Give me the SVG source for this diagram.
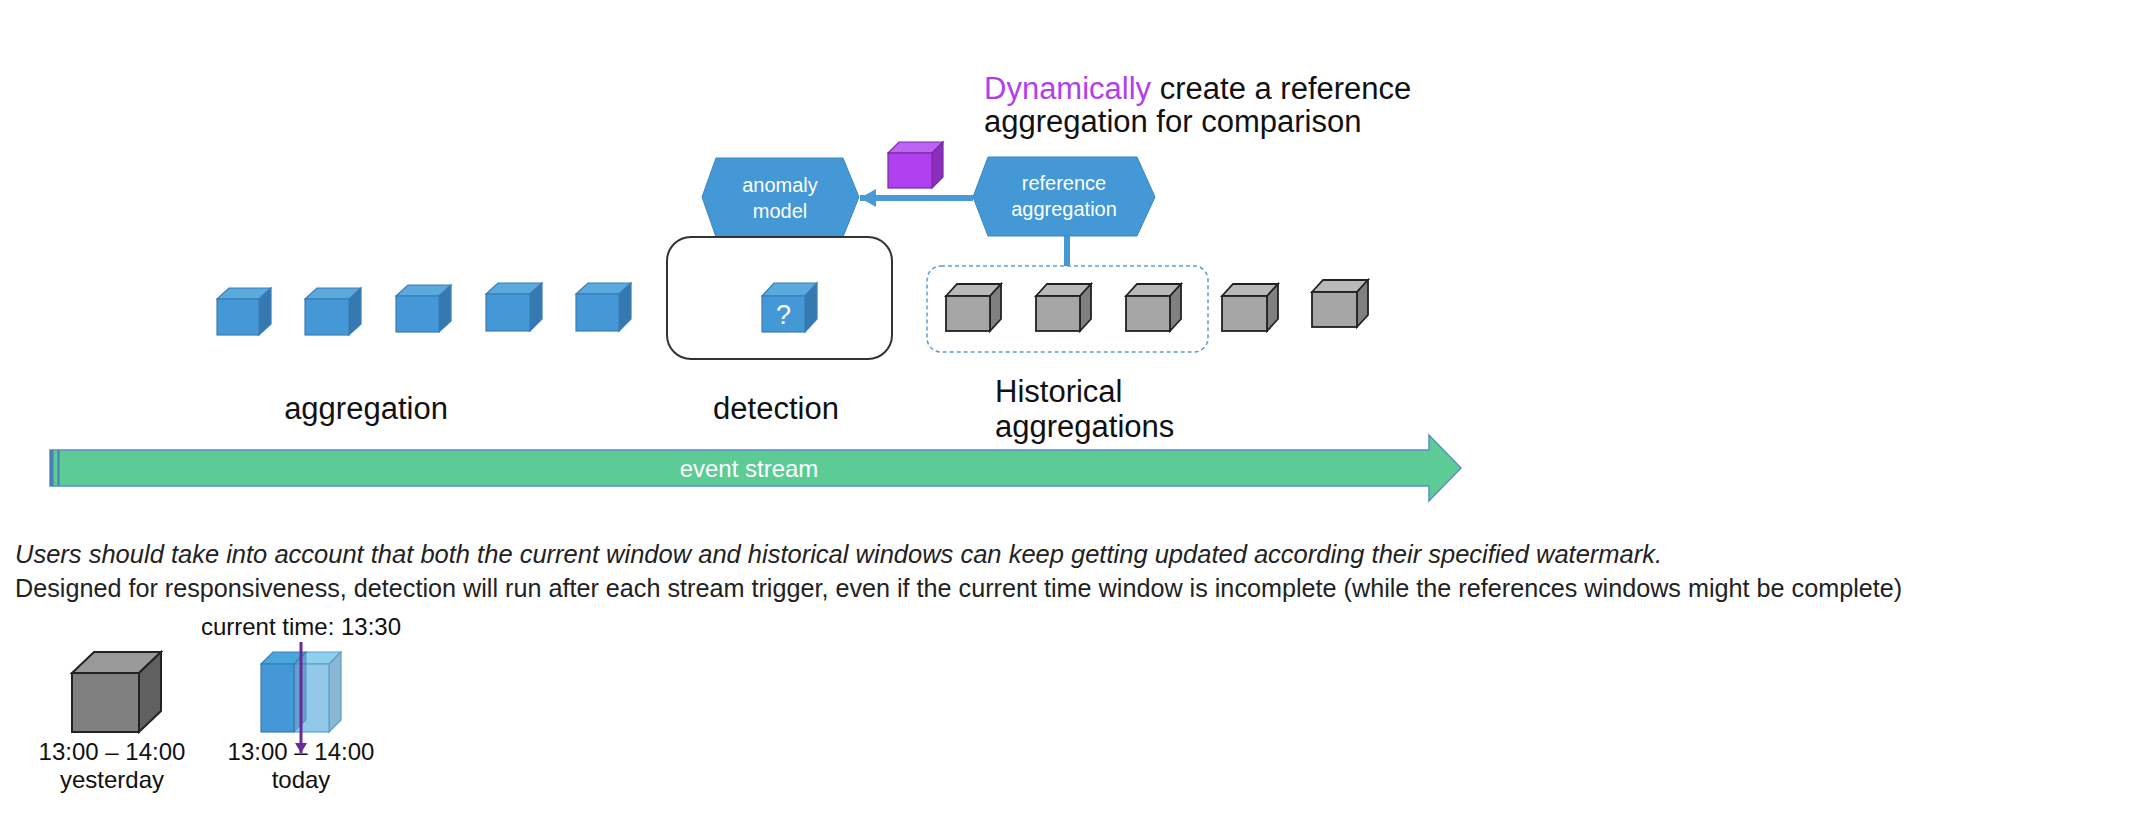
<svg xmlns="http://www.w3.org/2000/svg" width="2156" height="820" viewBox="0 0 2156 820">
<style>
text{font-family:"Liberation Sans",Arial,sans-serif}
.lbl{font-size:31px;fill:#111}
.hex{fill:#4398d5;stroke:#3c86c2;stroke-width:1}
.hext{font-size:20px;fill:#fff;text-anchor:middle}
.bf{fill:#4398d5;stroke:#3a7cb8;stroke-width:1.2}
.bt{fill:#5aaadd;stroke:#3a7cb8;stroke-width:1.2}
.bs{fill:#3679b0;stroke:#3a7cb8;stroke-width:1.2}
.gf{fill:#a6a6a6;stroke:#222;stroke-width:1.8}
.gt{fill:#b9b9b9;stroke:#222;stroke-width:1.8}
.gs{fill:#808080;stroke:#222;stroke-width:1.8}
.note{fill:#222}
.sm{font-size:24px;fill:#111;text-anchor:middle}
</style>
<defs>
<marker id="ah" markerWidth="16" markerHeight="18" refX="16" refY="9" orient="auto" markerUnits="userSpaceOnUse">
<path d="M16,9 L0,0 L0,18 Z" fill="#4a9ad6"/>
</marker>
<marker id="pa" markerWidth="12" markerHeight="12" refX="10" refY="6" orient="auto" markerUnits="userSpaceOnUse">
<path d="M10,6 L0,0 L0,12 Z" fill="#6a2a9a"/>
</marker>
</defs>

<g id="title">
<text class="lbl" x="984" y="99"><tspan fill="#b13fef">Dynamically</tspan> create a reference</text>
<text class="lbl" x="984" y="132">aggregation for comparison</text>
</g>

<g id="connectors">
<line x1="973" y1="198" x2="860" y2="198" stroke="#4a9ad6" stroke-width="6" marker-end="url(#ah)"/>
<line x1="1067" y1="236" x2="1067" y2="266" stroke="#4398d5" stroke-width="6"/>
</g>

<g id="purple-cube">
<polygon points="888,153 899,142 943,142 932,153" fill="#bf63f5" stroke="#7a2aa0" stroke-width="1.2"/>
<polygon points="932,153 943,142 943,177 932,188" fill="#8a2fbb" stroke="#7a2aa0" stroke-width="1.2"/>
<rect x="888" y="153" width="44" height="35" fill="#b03ff0" stroke="#7a2aa0" stroke-width="1.2"/>
</g>

<g id="anomaly-model">
<polygon class="hex" points="702,197 716,158 843,158 859,197 843,237 716,237"/>
<text class="hext" x="780" y="192">anomaly</text>
<text class="hext" x="780" y="218">model</text>
</g>

<g id="reference-aggregation">
<polygon class="hex" points="973,197 988,157 1137,157 1155,197 1137,236 988,236"/>
<text class="hext" x="1064" y="190">reference</text>
<text class="hext" x="1064" y="216">aggregation</text>
</g>

<g id="detection-box">
<rect x="667" y="237" width="225" height="122" rx="24" fill="none" stroke="#333" stroke-width="2"/>
</g>

<g id="historical-box">
<rect x="927" y="266" width="281" height="86" rx="14" fill="none" stroke="#5a9fd0" stroke-width="1.5" stroke-dasharray="4,3"/>
</g>

<g id="blue-cubes">
<g transform="translate(217,299)"><polygon class="bt" points="0,0 12,-11 54,-11 42,0"/><polygon class="bs" points="42,0 54,-11 54,25 42,36"/><rect class="bf" x="0" y="0" width="42" height="36"/></g>
<g transform="translate(305,299)"><polygon class="bt" points="0,0 12,-11 56,-11 44,0"/><polygon class="bs" points="44,0 56,-11 56,25 44,36"/><rect class="bf" x="0" y="0" width="44" height="36"/></g>
<g transform="translate(396,296)"><polygon class="bt" points="0,0 12,-11 55,-11 43,0"/><polygon class="bs" points="43,0 55,-11 55,25 43,36"/><rect class="bf" x="0" y="0" width="43" height="36"/></g>
<g transform="translate(486,294)"><polygon class="bt" points="0,0 12,-11 56,-11 44,0"/><polygon class="bs" points="44,0 56,-11 56,25 44,37"/><rect class="bf" x="0" y="0" width="44" height="37"/></g>
<g transform="translate(576,294)"><polygon class="bt" points="0,0 12,-11 55,-11 43,0"/><polygon class="bs" points="43,0 55,-11 55,25 43,37"/><rect class="bf" x="0" y="0" width="43" height="37"/></g>
</g>

<g id="detection-cube">
<g transform="translate(762,296)"><polygon class="bt" points="0,0 12,-13 55,-13 43,0"/><polygon class="bs" points="43,0 55,-13 55,23 43,36"/><rect class="bf" x="0" y="0" width="43" height="36"/>
<text x="21.5" y="28" font-size="27" fill="#fff" text-anchor="middle">?</text></g>
</g>

<g id="grey-cubes">
<g transform="translate(946,296)"><polygon class="gt" points="0,0 11,-12 55,-12 44,0"/><polygon class="gs" points="44,0 55,-12 55,23 44,35"/><rect class="gf" x="0" y="0" width="44" height="35"/></g>
<g transform="translate(1036,296)"><polygon class="gt" points="0,0 11,-12 55,-12 44,0"/><polygon class="gs" points="44,0 55,-12 55,23 44,35"/><rect class="gf" x="0" y="0" width="44" height="35"/></g>
<g transform="translate(1126,296)"><polygon class="gt" points="0,0 11,-12 55,-12 44,0"/><polygon class="gs" points="44,0 55,-12 55,23 44,35"/><rect class="gf" x="0" y="0" width="44" height="35"/></g>
<g transform="translate(1222,296)"><polygon class="gt" points="0,0 11,-12 56,-12 45,0"/><polygon class="gs" points="45,0 56,-12 56,23 45,35"/><rect class="gf" x="0" y="0" width="45" height="35"/></g>
<g transform="translate(1312,292)"><polygon class="gt" points="0,0 11,-12 56,-12 45,0"/><polygon class="gs" points="45,0 56,-12 56,23 45,35"/><rect class="gf" x="0" y="0" width="45" height="35"/></g>
</g>

<g id="labels">
<text class="lbl" x="366" y="419" text-anchor="middle">aggregation</text>
<text class="lbl" x="776" y="419" text-anchor="middle">detection</text>
<text class="lbl" x="995" y="402">Historical</text>
<text class="lbl" x="995" y="437">aggregations</text>
</g>

<g id="event-stream">
<polygon points="50,450 1429,450 1429,435 1461,468 1429,501 1429,486 50,486" fill="#5ccb96" stroke="#5b8fc4" stroke-width="1.5"/>
<rect x="50" y="450" width="3.5" height="36" fill="#4a7fb5"/>
<line x1="58.5" y1="450" x2="58.5" y2="486" stroke="#4a7fb5" stroke-width="2"/>
<text x="749" y="477" font-size="24" fill="#fff" text-anchor="middle">event stream</text>
</g>

<g id="notes">
<text class="note" x="15" y="563" font-size="25.5" font-style="italic">Users should take into account that both the current window and historical windows can keep getting updated according their specified watermark.</text>
<text class="note" x="15" y="597" font-size="25.2">Designed for responsiveness, detection will run after each stream trigger, even if the current time window is incomplete (while the references windows might be complete)</text>
</g>

<g id="yesterday-cube">
<polygon points="72,673 94,652 161,652 139,673" fill="#999" stroke="#222" stroke-width="2"/>
<polygon points="139,673 161,652 161,711 139,732" fill="#606060" stroke="#222" stroke-width="2"/>
<rect x="72" y="673" width="67" height="59" fill="#808080" stroke="#222" stroke-width="2"/>
<text class="sm" x="112" y="760">13:00 – 14:00</text>
<text class="sm" x="112" y="788">yesterday</text>
</g>

<g id="today-cube">
<polygon points="294,664 306,652 341,652 329,664" fill="#8fd0ee" stroke="#5a9fd0" stroke-width="1.2"/>
<polygon points="329,664 341,652 341,720 329,732" fill="#8ab8d4" stroke="#5a9fd0" stroke-width="1.2"/>
<rect x="294" y="664" width="35" height="68" fill="#92c9e8" stroke="#5a9fd0" stroke-width="1.2"/>
<polygon points="261,664 273,652 306,652 294,664" fill="#4aa7db" stroke="#3a7cb8" stroke-width="1.2"/>
<polygon points="294,664 306,652 306,720 294,732" fill="#3679b0" fill-opacity="0.5" stroke="#3a7cb8" stroke-width="1" stroke-opacity="0.6"/>
<rect x="261" y="664" width="33" height="68" fill="#4398d5" stroke="#3a7cb8" stroke-width="1.2"/>
<line x1="301" y1="642" x2="301" y2="753" stroke="#6a2a9a" stroke-width="3" marker-end="url(#pa)"/>
<text class="sm" x="301" y="635">current time: 13:30</text>
<text class="sm" x="301" y="760">13:00 – 14:00</text>
<text class="sm" x="301" y="788">today</text>
</g>
</svg>
